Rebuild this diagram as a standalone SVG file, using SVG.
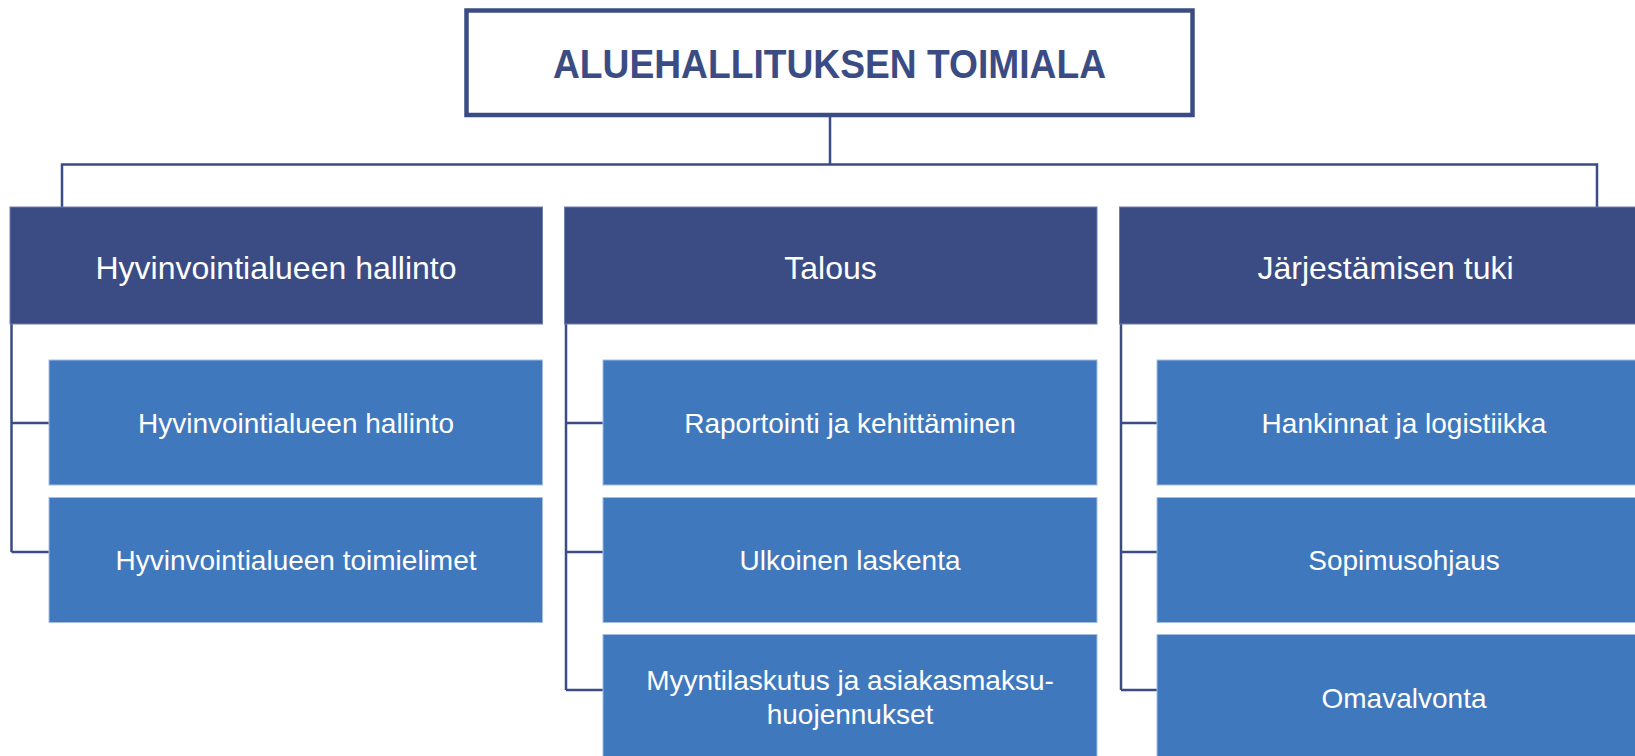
<svg xmlns="http://www.w3.org/2000/svg" width="1635" height="756" viewBox="0 0 1635 756">
<style>
.hdr{fill:#3B4C85;stroke:#6E7DAE;stroke-width:1}
.sub{fill:#3F78BD;stroke:#A4BDE3;stroke-width:1}
.ht{font-family:"Liberation Sans",Arial,sans-serif;font-size:32px;fill:#FFFFFF;text-anchor:middle}
.st{font-family:"Liberation Sans",Arial,sans-serif;font-size:28px;fill:#FFFFFF;text-anchor:middle}
.con{fill:none;stroke:#3B4C85;stroke-width:2.5}
</style>
<rect width="1635" height="756" fill="#FFFFFF"/>
<g id="connectors">
<path class="con" d="M830,117 V164.5 M62,207 V164.5 H1597 V207"/>
<path class="con" d="M11.5,324 V552 M11.5,423 H49 M11.5,552 H49"/>
<path class="con" d="M566,324 V690 M566,423 H603 M566,552 H603 M566,690 H603"/>
<path class="con" d="M1121,324 V690 M1121,423 H1157 M1121,552 H1157 M1121,690 H1157"/>
</g>
<g id="root">
<rect x="466.5" y="10.5" width="726" height="104.5" fill="#FFFFFF" stroke="#3B4C85" stroke-width="4.5"/>
<text x="829.5" y="78" font-family="Liberation Sans,Arial,sans-serif" font-weight="bold" font-size="40" fill="#3B4C85" text-anchor="middle" textLength="553" lengthAdjust="spacingAndGlyphs">ALUEHALLITUKSEN TOIMIALA</text>
</g>
<g id="h1"><rect class="hdr" x="10" y="207" width="532.5" height="117"/><text class="ht" x="276" y="279">Hyvinvointialueen hallinto</text></g>
<g id="h2"><rect class="hdr" x="564.5" y="207" width="532.5" height="117"/><text class="ht" x="830.5" y="279">Talous</text></g>
<g id="h3"><rect class="hdr" x="1119.5" y="207" width="532.5" height="117"/><text class="ht" x="1385.5" y="279">Järjestämisen tuki</text></g>
<g id="s11"><rect class="sub" x="49" y="360" width="493.5" height="125"/><text class="st" x="296" y="433">Hyvinvointialueen hallinto</text></g>
<g id="s12"><rect class="sub" x="49" y="497.5" width="493.5" height="125"/><text class="st" x="296" y="570">Hyvinvointialueen toimielimet</text></g>
<g id="s21"><rect class="sub" x="603" y="360" width="494" height="125"/><text class="st" x="850" y="433">Raportointi ja kehittäminen</text></g>
<g id="s22"><rect class="sub" x="603" y="497.5" width="494" height="125"/><text class="st" x="850" y="570">Ulkoinen laskenta</text></g>
<g id="s23"><rect class="sub" x="603" y="634.5" width="494" height="125"/><text class="st" x="850" y="690">Myyntilaskutus ja asiakasmaksu-</text><text class="st" x="850" y="724">huojennukset</text></g>
<g id="s31"><rect class="sub" x="1157" y="360" width="494" height="125"/><text class="st" x="1404" y="433">Hankinnat ja logistiikka</text></g>
<g id="s32"><rect class="sub" x="1157" y="497.5" width="494" height="125"/><text class="st" x="1404" y="570">Sopimusohjaus</text></g>
<g id="s33"><rect class="sub" x="1157" y="634.5" width="494" height="125"/><text class="st" x="1404" y="708">Omavalvonta</text></g>
</svg>
